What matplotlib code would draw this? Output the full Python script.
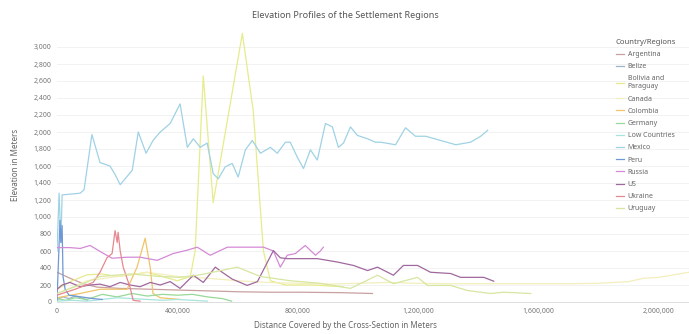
import matplotlib
matplotlib.use("Agg")
import matplotlib.pyplot as plt
from matplotlib.ticker import FuncFormatter, MultipleLocator

plt.rcParams['font.family'] = ['Noto Sans', 'DejaVu Sans']

# distance (m) / elevation (m) per region
argentina_x = [0, 43000, 87000, 133000, 210000, 310000, 409000, 509000, 609000, 709000, 809000, 942000, 1048000]
argentina_y = [350, 280, 215, 175, 160, 150, 140, 130, 120, 115, 115, 110, 100]

belize_x = [0, 20000, 40000, 60000, 80000, 100000]
belize_y = [30, 60, 40, 70, 50, 20]

bolivia_x = [0, 50000, 100000, 150000, 200000, 250000, 300000, 350000, 400000, 443000,
             459000, 486000, 519000, 616000, 652000, 686000, 709000, 760000, 850000, 950000]
bolivia_y = [150, 250, 320, 330, 300, 320, 350, 300, 250, 300,
             600, 2660, 1170, 3160, 2250, 600, 250, 200, 200, 180]

canada_x = [0, 100000, 200000, 300000, 400000, 500000, 600000, 700000, 800000, 900000, 1000000,
            1100000, 1200000, 1300000, 1400000, 1500000, 1600000, 1700000, 1800000, 1900000,
            1950000, 2000000, 2050000, 2100000]
canada_y = [100, 250, 300, 350, 300, 280, 250, 230, 220, 210, 220,
            230, 220, 215, 215, 215, 215, 215, 220, 240,
            280, 290, 320, 350]

colombia_x = [0, 76000, 143000, 210000, 233000, 266000, 293000, 310000, 319000, 343000, 409000]
colombia_y = [50, 100, 150, 150, 150, 410, 750, 400, 100, 50, 30]

germany_x = [0, 30000, 60000, 100000, 150000, 200000, 250000, 300000, 350000, 400000, 450000, 500000, 550000, 580000]
germany_y = [40, 20, 50, 30, 90, 60, 100, 70, 90, 80, 90, 60, 40, 10]

lowc_x = [0, 50000, 100000, 150000, 200000, 250000, 300000, 350000, 400000, 450000, 500000]
lowc_y = [10, 20, 10, 30, 50, 40, 30, 20, 30, 20, 10]

mexico_x = [0, 7000, 13000, 17000, 77000, 90000, 116000, 143000, 176000, 193000, 210000, 250000,
            270000, 296000, 319000, 343000, 376000, 409000, 433000, 453000, 476000, 499000, 519000,
            536000, 559000, 582000, 602000, 626000, 649000, 676000, 709000, 732000, 759000, 775000,
            799000, 819000, 842000, 865000, 892000, 915000, 935000, 952000, 975000, 998000, 1032000,
            1058000, 1075000, 1125000, 1158000, 1191000, 1225000, 1275000, 1325000, 1374000,
            1408000, 1431000]
mexico_y = [600, 1280, 700, 1260, 1280, 1320, 1970, 1640, 1600, 1500, 1380, 1550,
            2000, 1750, 1900, 2000, 2100, 2330, 1820, 1920, 1820, 1870, 1510,
            1450, 1590, 1630, 1470, 1790, 1900, 1750, 1820, 1750, 1880, 1880,
            1700, 1570, 1790, 1670, 2100, 2060, 1820, 1870, 2060, 1960, 1920,
            1880, 1880, 1850, 2050, 1950, 1950, 1900, 1850, 1880,
            1950, 2020]

peru_x = [0, 3000, 10000, 13000, 17000, 20000, 27000, 40000, 80000, 120000, 150000]
peru_y = [20, 300, 960, 700, 900, 300, 150, 80, 60, 40, 30]

russia_x = [0, 43000, 77000, 110000, 136000, 160000, 183000, 233000, 276000, 333000, 386000, 433000,
            466000, 509000, 566000, 686000, 719000, 742000, 765000, 792000, 825000, 859000, 875000, 885000]
russia_y = [640, 640, 630, 665, 610, 560, 515, 527, 527, 490, 570, 610,
            645, 550, 645, 645, 600, 410, 550, 570, 665, 550, 600, 645]

us_x = [0, 17000, 43000, 77000, 110000, 143000, 176000, 210000, 243000, 276000, 310000, 343000,
        376000, 409000, 453000, 486000, 526000, 549000, 582000, 632000, 666000, 719000, 742000,
        765000, 865000, 932000, 985000, 1032000, 1065000, 1118000, 1151000, 1198000, 1241000,
        1308000, 1341000, 1418000, 1451000]
us_y = [150, 200, 230, 180, 200, 210, 180, 230, 200, 180, 230, 200,
        240, 160, 315, 230, 410, 350, 270, 195, 240, 605, 520,
        510, 510, 470, 430, 370, 410, 315, 430, 430, 350,
        335, 290, 290, 245]

ukraine_x = [0, 60000, 120000, 143000, 166000, 183000, 193000, 200000, 203000, 210000, 220000, 243000, 253000, 276000]
ukraine_y = [80, 150, 230, 350, 520, 570, 840, 700, 820, 600, 410, 170, 20, 10]

uruguay_x = [0, 76000, 143000, 243000, 343000, 409000, 476000, 599000, 676000, 775000, 875000, 975000,
             1065000, 1118000, 1198000, 1231000, 1308000, 1364000, 1441000, 1484000, 1574000]
uruguay_y = [100, 200, 300, 330, 300, 290, 320, 410, 300, 250, 220, 160,
             315, 215, 290, 195, 195, 135, 100, 115, 100]

series = [
    ("Argentina", argentina_x, argentina_y, "#c9a0a0"),
    ("Belize", belize_x, belize_y, "#9fb4c8"),
    ("Bolivia and\nParaguay", bolivia_x, bolivia_y, "#e6ec8c"),
    ("Canada", canada_x, canada_y, "#f2efbc"),
    ("Colombia", colombia_x, colombia_y, "#f0c468"),
    ("Germany", germany_x, germany_y, "#98d898"),
    ("Low Countries", lowc_x, lowc_y, "#a8e4dc"),
    ("Mexico", mexico_x, mexico_y, "#9fd2e4"),
    ("Peru", peru_x, peru_y, "#6f98d4"),
    ("Russia", russia_x, russia_y, "#d48ad6"),
    ("US", us_x, us_y, "#a0689e"),
    ("Ukraine", ukraine_x, ukraine_y, "#e68890"),
    ("Uruguay", uruguay_x, uruguay_y, "#d6e6a0"),
]

fig = plt.figure(figsize=(6.89, 3.34), dpi=100)
ax = fig.add_axes([57 / 689, 32 / 334, 632 / 689, 272 / 334])

for name, xs, ys, col in series:
    ax.plot(xs, ys, color=col, lw=0.9, label=name)

ax.set_xlim(0, 2100000)
ax.set_ylim(0, 3200)
ax.yaxis.set_major_locator(MultipleLocator(200))
ax.xaxis.set_major_locator(MultipleLocator(400000))
fmt = FuncFormatter(lambda v, p: f"{int(v):,}")
ax.xaxis.set_major_formatter(fmt)
ax.yaxis.set_major_formatter(fmt)
ax.set_yticks([t for t in range(0, 3001, 200)])

ax.grid(axis="y", color="#f0f0f0", lw=0.6)
ax.set_axisbelow(True)
for s in ["top", "right", "left"]:
    ax.spines[s].set_visible(False)
ax.spines["bottom"].set_color("#d8d8d8")
ax.spines["bottom"].set_linewidth(0.6)
ax.tick_params(length=0, labelsize=5, labelcolor="#777777", pad=4)

fig.text(345 / 689, 1 - 16 / 334, "Elevation Profiles of the Settlement Regions",
         ha="center", va="center", fontsize=6.5, color="#555555")
fig.text(345 / 689, 1 - 325 / 334, "Distance Covered by the Cross-Section in Meters",
         ha="center", va="center", fontsize=5.8, color="#666666")
fig.text(16 / 689, 1 - 165 / 334, "Elevation in Meters", rotation=90,
         ha="center", va="center", fontsize=5.8, color="#666666")

leg = ax.legend(loc="upper left", bbox_to_anchor=(613 / 689, 1 - 36 / 334),
                bbox_transform=fig.transFigure, frameon=False, fontsize=5,
                title="Country/Regions", title_fontsize=5.5, handlelength=1.2,
                handletextpad=0.5, labelspacing=0.75, borderaxespad=0)
leg._legend_box.align = "left"
for t in leg.get_texts():
    t.set_color("#666666")
leg.get_title().set_color("#555555")

fig.savefig("out.png", dpi=100)
